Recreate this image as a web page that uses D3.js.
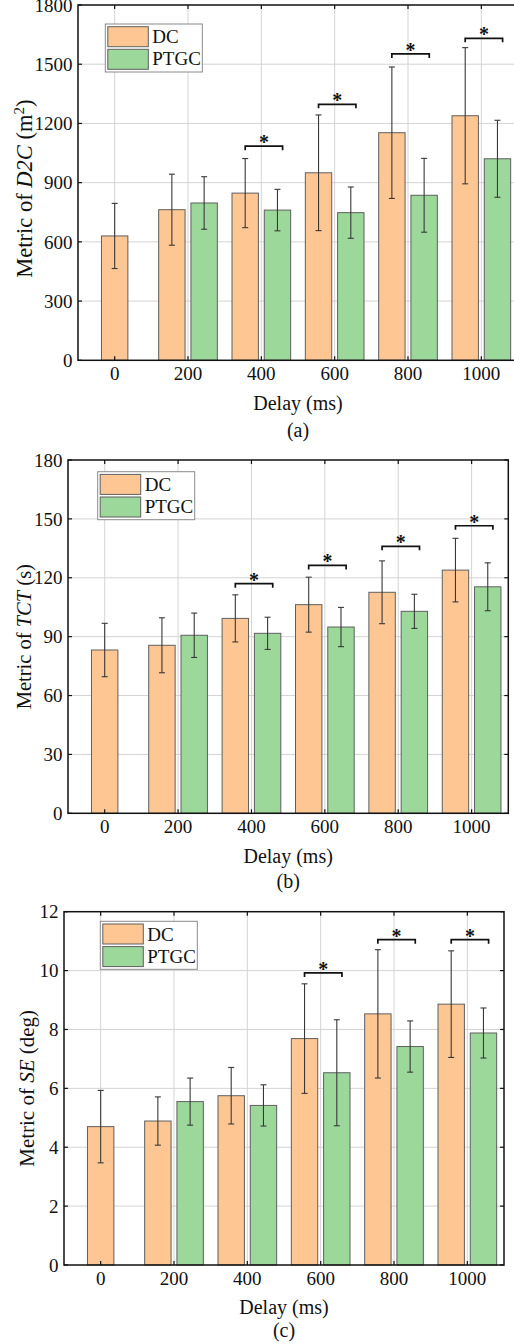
<!DOCTYPE html>
<html>
<head>
<meta charset="utf-8">
<script src="https://cdn.jsdelivr.net/npm/d3@7"></script>
<style>
  html, body { margin: 0; padding: 0; background: #fff; }
  text { font-family: "Liberation Serif", "Times New Roman", serif; fill: #111; }
</style>
</head>
<body>
<div id="chart"></div>
<script>
// Delay conditions (ms) shared by all three panels
const delays = [0, 200, 400, 600, 800, 1000];

// (a) D2C metric (m^2)
const d2cDC = [630, 763, 847, 950, 1153, 1239];
const d2cDCErr = [165, 180, 175, 293, 333, 345];
const d2cPTGC = [null, 797, 761, 748, 836, 1021];
const d2cPTGCErr = [null, 133, 105, 130, 187, 195];
const d2cSig = [null, null, 1085, 1297, 1552, 1631];

// (b) TCT metric (s)
const tctDC = [83.2, 85.6, 99.3, 106.3, 112.6, 123.9];
const tctDCErr = [13.6, 14, 12, 14, 16, 16.2];
const tctPTGC = [null, 90.7, 91.7, 94.9, 102.9, 115.4];
const tctPTGCErr = [null, 11.3, 8.2, 10, 8.7, 12.2];
const tctSig = [null, null, 117, 126.3, 136, 146.5];

// (c) SE metric (deg)
const seDC = [4.70, 4.89, 5.75, 7.69, 8.53, 8.86];
const seDCErr = [1.23, 0.82, 0.96, 1.86, 2.18, 1.81];
const sePTGC = [null, 5.55, 5.42, 6.53, 7.42, 7.88];
const sePTGCErr = [null, 0.8, 0.7, 1.8, 0.87, 0.85];
const seSig = [null, null, null, 9.92, 11.05, 11.05];

const seriesNames = ['DC', 'PTGC'];

const COLORS = { DC: '#fdc693', PTGC: '#9dd89b' };
const W = 514, H = 1344;

const svg = d3.select('#chart').append('svg')
    .attr('width', W)
    .attr('height', H)
    .style('display', 'block');

svg.append('rect').attr('width', W).attr('height', H).attr('fill', '#fff');

/**
 * Draw one grouped bar panel with error bars, significance brackets and legend.
 */
function drawPanel(cfg) {
    const {
        left, top, right, bottom,
        yMax, yStep,
        dc, dcErr, ptgc, ptgcErr, sig,
        title, titleSize, titleShift, legendX, legendY,
        xTitleY, labelY, label, titleX
    } = cfg;

    const x = d3.scaleLinear().domain([-100, 1100]).range([left, right]);
    const y = d3.scaleLinear().domain([0, yMax]).range([bottom, top]);
    const yTicks = d3.range(0, yMax + yStep / 2, yStep);

    const g = svg.append('g');

    // grid
    g.append('g').selectAll('line.gy')
        .data(yTicks.slice(1, -1))
        .enter().append('line')
        .attr('x1', left).attr('x2', right)
        .attr('y1', d => y(d)).attr('y2', d => y(d))
        .attr('stroke', '#d4d4d4').attr('stroke-width', 1);
    g.append('g').selectAll('line.gx')
        .data(delays)
        .enter().append('line')
        .attr('x1', d => x(d)).attr('x2', d => x(d))
        .attr('y1', top).attr('y2', bottom)
        .attr('stroke', '#d4d4d4').attr('stroke-width', 1);

    // bars
    const barHalf = 36, offset = 44;
    const bars = [];
    delays.forEach((d, i) => {
        const solo = ptgc[i] == null;
        bars.push({ s: 'DC', c: solo ? d : d - offset, v: dc[i], e: dcErr[i] });
        if (!solo) bars.push({ s: 'PTGC', c: d + offset, v: ptgc[i], e: ptgcErr[i] });
    });

    g.append('g').selectAll('rect')
        .data(bars)
        .enter().append('rect')
        .attr('x', b => x(b.c - barHalf))
        .attr('width', b => x(b.c + barHalf) - x(b.c - barHalf))
        .attr('y', b => y(b.v))
        .attr('height', b => y(0) - y(b.v))
        .attr('fill', b => COLORS[b.s])
        .attr('stroke', '#5f5f5f')
        .attr('stroke-width', 1);

    // error bars
    const eg = g.append('g').attr('stroke', '#383838').attr('stroke-width', 1.1);
    bars.forEach(b => {
        const cx = x(b.c);
        eg.append('line').attr('x1', cx).attr('x2', cx).attr('y1', y(b.v - b.e)).attr('y2', y(b.v + b.e));
        [b.v - b.e, b.v + b.e].forEach(v => {
            eg.append('line').attr('x1', cx - 3).attr('x2', cx + 3).attr('y1', y(v)).attr('y2', y(v));
        });
    });

    // significance brackets
    delays.forEach((d, i) => {
        if (sig[i] == null) return;
        const x0 = x(d - offset), x1 = x(d + 58), yy = y(sig[i]);
        g.append('path')
            .attr('d', `M${x0},${yy + 4}V${yy}H${x1}V${yy + 4}`)
            .attr('fill', 'none')
            .attr('stroke', '#111')
            .attr('stroke-width', 1.7);
        g.append('text')
            .attr('x', (x0 + x1) / 2)
            .attr('y', yy + 3)
            .attr('text-anchor', 'middle')
            .style('font-size', '20px')
            .style('font-weight', 'bold')
            .text('*');
    });

    // frame + inward ticks
    g.append('rect')
        .attr('x', left).attr('y', top)
        .attr('width', right - left).attr('height', bottom - top)
        .attr('fill', 'none').attr('stroke', '#111').attr('stroke-width', 1.5);

    const tk = g.append('g').attr('stroke', '#111').attr('stroke-width', 1.2);
    delays.forEach(d => {
        tk.append('line').attr('x1', x(d)).attr('x2', x(d)).attr('y1', bottom).attr('y2', bottom - 4);
        tk.append('line').attr('x1', x(d)).attr('x2', x(d)).attr('y1', top).attr('y2', top + 4);
    });
    yTicks.forEach(v => {
        tk.append('line').attr('x1', left).attr('x2', left + 4).attr('y1', y(v)).attr('y2', y(v));
        tk.append('line').attr('x1', right).attr('x2', right - 4).attr('y1', y(v)).attr('y2', y(v));
    });

    // tick labels
    g.append('g').selectAll('text')
        .data(delays)
        .enter().append('text')
        .attr('x', d => x(d))
        .attr('y', bottom + 19.5)
        .attr('text-anchor', 'middle')
        .style('font-size', '19px')
        .text(d => d);
    g.append('g').selectAll('text')
        .data(yTicks)
        .enter().append('text')
        .attr('x', left - 5.5)
        .attr('y', d => y(d))
        .attr('dy', '0.35em')
        .attr('text-anchor', 'end')
        .style('font-size', '19px')
        .text(d => d);

    // axis titles
    g.append('text')
        .attr('x', (left + right) / 2)
        .attr('y', xTitleY)
        .attr('text-anchor', 'middle')
        .style('font-size', '20px')
        .text('Delay (ms)');
    g.append('text')
        .attr('x', (left + right) / 2)
        .attr('y', labelY)
        .attr('text-anchor', 'middle')
        .style('font-size', '20px')
        .text(label);

    const yt = g.append('text')
        .attr('transform', `translate(${titleX},${(top + bottom) / 2 + titleShift}) rotate(-90)`)
        .attr('text-anchor', 'middle')
        .style('font-size', titleSize + 'px');
    title.forEach(p => {
        const ts = yt.append('tspan').text(p.t);
        if (p.i) ts.style('font-style', 'italic');
        if (p.sup) ts.attr('dy', '-0.55em').style('font-size', '15px');
        if (p.after) ts.attr('dy', '0.37em');
    });

    // legend
    const lg = g.append('g').attr('transform', `translate(${legendX},${legendY})`);
    lg.append('rect')
        .attr('width', 97).attr('height', 48)
        .attr('fill', '#fff').attr('stroke', '#8a8a8a').attr('stroke-width', 1);
    seriesNames.forEach((s, i) => {
        lg.append('rect')
            .attr('x', 2.5).attr('y', 2.7 + i * 22.6)
            .attr('width', 40.5).attr('height', 20)
            .attr('fill', COLORS[s]).attr('stroke', '#5f5f5f').attr('stroke-width', 1);
        lg.append('text')
            .attr('x', 47).attr('y', 19.3 + i * 22)
            .style('font-size', '19px')
            .text(s);
    });
}

drawPanel({
    left: 78, top: 5, right: 518, bottom: 360.3,
    yMax: 1800, yStep: 300,
    dc: d2cDC, dcErr: d2cDCErr, ptgc: d2cPTGC, ptgcErr: d2cPTGCErr, sig: d2cSig,
    title: [{ t: 'Metric of ' }, { t: 'D2C', i: true }, { t: ' (m' }, { t: '2', sup: true }, { t: ')', after: true }],
    titleSize: 22.5, titleShift: 6,
    legendX: 105.3, legendY: 24,
    xTitleY: 410, labelY: 436.5, label: '(a)', titleX: 32
});

drawPanel({
    left: 68, top: 460, right: 508.3, bottom: 813.3,
    yMax: 180, yStep: 30,
    dc: tctDC, dcErr: tctDCErr, ptgc: tctPTGC, ptgcErr: tctPTGCErr, sig: tctSig,
    title: [{ t: 'Metric of ' }, { t: 'TCT', i: true }, { t: ' (s)' }],
    titleSize: 20.5, titleShift: 0,
    legendX: 97.7, legendY: 471.7,
    xTitleY: 862.7, labelY: 888, label: '(b)', titleX: 31
});

drawPanel({
    left: 64, top: 911.7, right: 504, bottom: 1265,
    yMax: 12, yStep: 2,
    dc: seDC, dcErr: seDCErr, ptgc: sePTGC, ptgcErr: sePTGCErr, sig: seSig,
    title: [{ t: 'Metric of ' }, { t: 'SE', i: true }, { t: ' (deg)' }],
    titleSize: 21, titleShift: 0,
    legendX: 100.3, legendY: 921.3,
    xTitleY: 1314.3, labelY: 1336.5, label: '(c)', titleX: 34
});
</script>
</body>
</html>
